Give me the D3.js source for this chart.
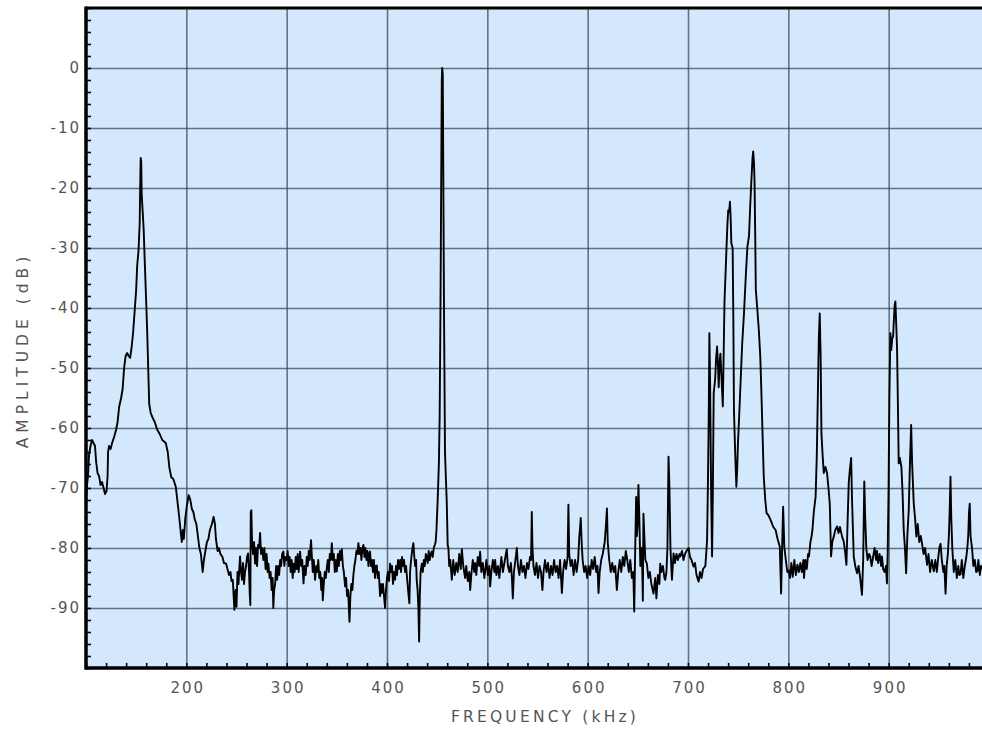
<!DOCTYPE html>
<meta charset="utf-8">
<style>
body { margin: 0; background: #fff; }
.grid line { stroke: #35414d; stroke-opacity: 0.7; stroke-width: 1.6; }
.grid .domain { display: none; }
.minor line { stroke: #000; stroke-width: 1.6; }
.minor .domain { display: none; }
.lbl text { fill: #555; font-family: "DejaVu Sans", sans-serif; font-size: 15px; letter-spacing: 2px; }
.lbl .domain, .lbl line { display: none; }
.title { fill: #555; font-family: "DejaVu Sans", sans-serif; font-size: 15.5px; }
.trace { fill: none; stroke: #000; stroke-width: 1.9; stroke-linejoin: round; }
</style>
<svg width="982" height="730"></svg>
<script src="https://d3js.org/d3.v7.min.js"></script>
<script>

// tick values
var xTicks = [200, 300, 400, 500, 600, 700, 800, 900];
var yTicks = [0, -10, -20, -30, -40, -50, -60, -70, -80, -90];

// spectrum: [frequency kHz, amplitude dB]
var lowBand = [
  [100,-73],[101,-69.5],[102,-68],[103,-64.5],[104.5,-63],[106,-62],[107.5,-62.5],[109,-63],[110,-65.5],[111.5,-67.5],
  [113,-68],[114.5,-69.5],[116,-69],[117.5,-70],[119,-71],[120.5,-70.5],[121.5,-68],[122,-64],[123,-63],[124.5,-63.5],
  [126,-62.5],[128,-61.5],[130,-60.3],[131.5,-59],[133,-56.5],[135,-55],[136.5,-53.5],[138,-50],[139.5,-48],[141,-47.5],
  [142.5,-48],[144,-48.3],[145.5,-46.5],[147,-44],[148.5,-40.5],[150,-37],[151,-33],[152.3,-30.5],[153.5,-26],[154,-20],
  [154.5,-15],[155,-15.5],[155.5,-21],[156.5,-24],[157.5,-27],[158.5,-32],[160,-39],[161,-44],[162,-50],[163,-56],
  [164.5,-57.5],[166.5,-58.3],[168.5,-59],[171,-60.3],[173.5,-61],[176,-62],[179.5,-62.5],[181.5,-64],[183,-66.5],[185,-68.2],
  [187,-68.5],[189.5,-69.8],[191,-72],[193,-75],[194.5,-77.5],[195.5,-79],[196.5,-77],[197.5,-78.5],[199,-75],[200.5,-73],
  [202.4,-71.2],[204,-72],[205.5,-73.5],[207,-74],[208.5,-75.3],[210,-76],[211.5,-78],[213,-80],[214.5,-81],[216.3,-84],
  [217.5,-82],[219,-80.5],[220.5,-79],[222,-78.5],[223.5,-77],[225.5,-76],[227.2,-74.8],[228.5,-76],[229.5,-78.5],[231.2,-80.5],
  [232.5,-80],[234,-81],[236,-81.5],[237.5,-82.5],[239.6,-82.6],[241,-83.5],[242.5,-84.5],[244,-84],[245,-85.5],[246.3,-85.3],
  [247.9,-90.3],[249,-87]
];

var floorA = [
  [250,-89.8],[251,-84],[252,-86],[253.5,-81.4],[254.5,-84],[255.5,-85.3],[256.5,-82.5],[257.5,-86],[258.5,-84],[259.5,-83],
  [260.5,-81.5],[261.5,-80.9],[262.5,-84],[263.3,-88],[263.8,-89.5],[264.2,-74],[264.8,-73.7],[265.5,-79],[266.5,-81],[267.5,-79],
  [268.5,-82.6],[269.5,-80],[270.5,-83],[271.5,-79.5],[272.5,-80],[273.5,-77.5],[274.5,-81],[275.5,-80],[276.8,-82],[277.8,-80],
  [279,-83.5],[280,-81],[281,-84],[281.8,-82.6],[283,-85],[284,-84],[285,-87],[286,-85],[286.7,-90],[287.5,-87],
  [288.5,-86],[289.5,-83],[290.5,-85.3],[291.5,-83],[292.5,-84.5],[293.5,-82],[294.5,-83],[295.5,-81],[296.7,-80.6],[297.7,-83],
  [298.7,-81.5],[300,-82],[301,-80.5],[302,-83],[303,-81.5],[304,-84],[305,-82],[306,-85],[307,-82.6],[308,-84],
  [309,-81.5],[310,-83.5],[311,-81],[312,-84],[313.4,-80.6],[314.5,-83],[315.5,-82],[316.8,-85.9],[317.8,-83],[319,-84.5],
  [320,-81.5],[321,-83],[322,-80.5],[323,-82],[323.7,-80],[324.3,-78.7],[325,-81],[326,-84],[327,-82],[328.3,-85.3],
  [329.5,-83],[330.5,-84],[331.5,-82],[332.5,-85],[333.5,-84],[334.5,-87],[335.3,-85],[336,-88.7],[337,-86],[338,-84],
  [339,-85],[340,-83.3],[341,-82],[342,-84],[343,-81],[344,-82],[345,-79.2],[346,-82],[347,-81],[348,-84],
  [349,-82],[350,-83.9],[351,-81],[352,-83],[353,-80.5],[354,-82],[355,-80.2],[356,-83],[357,-84],[358.2,-86.4],
  [359.2,-85],[360.2,-88],[361.2,-87],[362.6,-92.3],[363.5,-88],[364.5,-86],[365.5,-87],[366.5,-84.5],[367.5,-83],[368.5,-82],
  [369.5,-80.5],[370.5,-81],[371.5,-79.2],[372.5,-81],[373.5,-80],[374.5,-82],[375.5,-80],[376.5,-79.5],[377.5,-81.5],[378.5,-80],
  [379.5,-82],[380.5,-80.5],[381.5,-83],[382.3,-81],[383.1,-80.6],[384,-83],[385,-82],[386,-84],[387,-82],[388,-85],
  [389,-83],[389.8,-82.9],[390.8,-85],[391.8,-84],[393.1,-88],[394,-86],[395,-87.5],[396,-86],[397,-88],[398.1,-90],
  [399,-87],[400,-85],[401,-84],[402,-85.5],[403.1,-82.6],[404,-84],[405,-83],[406,-86],[407,-84],[408.1,-85.3],
  [409,-83],[410,-84.5],[411,-82],[412,-83.5],[413.1,-82],[414,-84],[415,-81.5],[416,-83],[417,-82],[418,-84],
  [419,-83],[420,-85],[421,-87],[422.3,-89.2],[423,-84],[424,-82],[425,-80.5],[426.3,-79.2],[427,-81],[428,-83],
  [429,-82],[429.6,-85.3],[430.5,-87],[431.3,-90],[432,-95.6],[432.7,-88],[433.5,-84],[434.7,-82.6],[435.7,-84],[436.7,-82],
  [437.7,-83],[438.7,-81],[439.6,-81.4],[440.6,-82.5],[441.6,-80.5],[442.6,-82],[443.6,-81],[444.6,-80.6],[445.6,-81.5],[446.6,-80],
  [447.6,-79.5],[448.5,-79],[449.3,-77]
];

var carrier = [
  [450.5,-72],[451.7,-66],[452.5,-58],[453.3,-40],[454,-20],[454.6,-2],[455,0],[455.6,-1],[456.1,-17],[456.8,-40],
  [457.8,-64],[458.6,-68],[459.5,-72],[460.5,-79.5],[461.2,-80],[462,-83],[463,-82],[464,-84],[464.6,-85.3]
];

var floorB = [
  [466,-82],[467.5,-84.5],[469,-82.5],[470.5,-84],[472,-81],[473.5,-83.5],[474.6,-80.2],[476,-83],[477.9,-85],[479,-83],
  [480.5,-85.5],[482,-84],[482.9,-87],[484,-84.5],[485.5,-82],[487,-84],[487.8,-82.5],[489,-84.5],[490.5,-81.5],[492,-83],
  [492.8,-80.6],[494,-84],[495.5,-82.5],[497,-85],[497.8,-84],[499,-82],[500.5,-84.5],[502,-83],[502.8,-86.4],[504,-84],
  [505.5,-82],[507,-84],[507.8,-82],[509,-84.5],[510.5,-83],[512,-85],[512.8,-83.5],[514,-81.5],[515.5,-84],[517,-82.5],
  [518.5,-81],[519.4,-80.2],[520.5,-83],[522,-84],[523.5,-82.5],[524.5,-85],[525.4,-88.4],[526.5,-84],[528,-82],[529.4,-80],
  [530.5,-83],[532,-84.5],[533.5,-82],[535,-84],[536.5,-83],[538,-85],[539.5,-82.5],[541,-83.5],[542.5,-81.5],[543.6,-82],
  [544.3,-74],[545,-80],[546,-83],[547.5,-84.5],[549,-82.5],[550.5,-85],[552,-83],[553.5,-84],[554.9,-87],[556,-84],
  [557.5,-82],[559,-84],[560.5,-82.5],[562,-85],[563.5,-83],[565,-84.5],[566.5,-82],[568,-84],[569.5,-83],[571,-85],
  [572.5,-82],[574.3,-87.5],[575.5,-84],[577,-82],[578.5,-83.5],[580,-81.5],[580.8,-72.8],[581.6,-81],[583,-83],[584.5,-82],
  [586,-84.5],[587.5,-82],[589,-84],[590.5,-82],[591.7,-78],[592.5,-76.5],[593.1,-75],[594,-79],[595,-82],[596.5,-84],
  [598,-83],[599.5,-85],[601,-83],[602.5,-84.5],[604,-82],[605.5,-83.5],[607,-81.5],[608.5,-84],[609.8,-83],[610.8,-87.5],
  [612,-84],[613.5,-82],[615,-81],[617,-79],[618.3,-76],[619.2,-73.4],[620,-79],[621.5,-82],[623,-84],[624.5,-82.5],
  [626,-84],[627.5,-83],[629.1,-87],[630.5,-84],[632,-82],[633.5,-84],[635,-81.5],[636.5,-83],[638,-80.5],[639.5,-82],
  [641,-84],[642.5,-82],[644,-85],[645.5,-84],[646.4,-90.6],[647.2,-82],[648.3,-71.5],[649,-78],[649.8,-76],[650.6,-69.5],
  [651.5,-75],[652.5,-83],[654,-80],[655,-88.8],[655.6,-74.3],[656.5,-78],[657.5,-82],[659,-82.6],[660.5,-85],[662,-84],
  [663.5,-86],[665.6,-87.6],[667.3,-85],[668.5,-88.4],[670,-84.5],[671.5,-86],[672.3,-82.6],[673.5,-84],[675,-83],[676.5,-85],
  [677.3,-85.3],[678.5,-84],[679.5,-80],[680.6,-64.8],[681.5,-70],[682.5,-80],[684,-85.3],[685.6,-80.9],[687,-82.5],[688.5,-81],
  [690,-82],[691.5,-81],[692.3,-81.4],[694,-80.5],[695.5,-82],[697,-81],[698.5,-80.5],[700.6,-80],[702,-81.5],[703.5,-82],
  [705.6,-83.1],[707,-82.5],[708.5,-84.5],[710.6,-85.6],[712,-84],[713.5,-85],[715,-83.5],[717.3,-83],[718.3,-80.5],[719,-78.7]
];

var upperBand = [
  [719.8,-70],[720.6,-59.2],[721.3,-44.2],[722,-52],[723,-69.8],[724,-81.4],[724.8,-70],[725.6,-54.2],[727,-52],[728,-48.5],
  [729,-46.4],[730,-50],[730.6,-53.2],[731.5,-49],[732.3,-47.6],[733.5,-52],[734.7,-56.4],[735.5,-48],[736.4,-38.7],[737.5,-34],
  [738.4,-29.8],[739.3,-26],[740.1,-23.7],[741,-24],[741.8,-22.3],[742.5,-25],[743.2,-29.2],[744.5,-30],[745.2,-42],[745.8,-57],
  [747,-64],[748.2,-69.8],[749,-67],[749.8,-62.5],[751,-58],[752.5,-52],[754,-46],[755.8,-40.9],[757.5,-35],[759.2,-29.8],
  [760.8,-28],[762,-23],[763.2,-18.7],[764.3,-15],[765,-13.9],[765.8,-16],[766.3,-18.7],[767,-28],[767.6,-37],[769,-40],
  [770.6,-43.7],[772,-48],[773,-53.2],[774.3,-61],[775.5,-68.1],[777,-72],[778.3,-74.2],[780,-74.5],[782.3,-75.3],[785,-76.5],
  [787.3,-77],[789.3,-78.5],[791.5,-79.8],[792.8,-87.6],[793.8,-80],[794.8,-73.1],[796,-79.8],[797.5,-82],[799,-84],[800.3,-83.7]
];

var highBand = [
  [801.7,-85],[803,-82.5],[804.4,-84.8],[806,-82],[807.5,-84.5],[809,-82.8],[810.5,-84],[812,-82.5],[813.5,-84],[815,-82],
  [815.6,-85],[817,-82],[818.4,-83.5],[819.7,-81],[820.6,-81.4],[822,-79],[823.2,-78],[824,-77],[825.4,-74],[827.2,-71.4],
  [828.3,-65],[829.5,-53.7],[830.4,-45],[831.3,-40.9],[832.2,-48],[833,-60.9],[834,-64],[835.3,-67.5],[837,-66.5],[838.6,-67.5],
  [840,-70],[841.3,-72.6],[842.6,-81.4],[843.8,-79],[845.3,-78.1],[846.8,-77],[848.6,-76.4],[850,-77.5],[851.4,-76.5],[853.6,-78.1],
  [855.3,-79],[856.8,-81],[857.9,-82.8],[859,-76],[860.2,-69.2],[861.3,-67],[862.6,-65],[863.5,-72],[865.2,-81.4],[866.7,-83],
  [868.5,-84.2],[870,-83],[871.6,-85],[873.4,-87.8],[874.6,-82],[875.7,-68.9],[876.6,-75],[877.7,-80],[879,-82],[880.5,-81],
  [881.6,-81.4],[883,-83],[884.5,-81.5],[886,-80],[887.5,-82],[888.3,-80.5],[889.5,-82.5],[891,-81],[892.5,-83],[893.3,-81.4],
  [894.5,-83.5],[896,-84],[897.3,-83],[898.3,-85.9],[899.1,-80],[899.9,-70.3],[900.7,-55],[901.7,-44.2],[902.6,-47],[903.6,-45],
  [904.4,-44.8],[905.2,-42],[906,-39.5],[906.7,-38.9],[907.6,-43],[908.4,-47],[909.2,-56],[910,-65.9],[911.1,-65],[912.7,-66.5],
  [913.9,-71],[915,-77],[916.2,-80],[917.4,-84.2],[918.6,-78],[920,-73.7],[921.2,-66],[922.4,-59.5],[923.4,-66],[925,-72.6],
  [926.3,-75],[927.6,-78.1],[929,-76],[930.5,-79],[932,-78],[933.3,-79.3],[934.8,-81],[936.3,-80],[938.3,-82.8],[939.7,-81],
  [941.3,-84],[943,-82],[945,-83.9],[946.5,-82],[948,-84],[949.5,-81.5],[950.5,-80],[951.7,-79.3],[953,-82],[954.5,-84],
  [955.5,-83],[956.7,-87.6],[957.8,-83],[959,-81],[960,-78],[960.8,-74],[961.6,-68.1],[962.4,-75],[963.4,-80],[964.9,-84],
  [966.4,-82],[967.9,-85],[969.4,-83],[970.4,-84.5],[971.6,-84.4],[972.9,-82],[974.4,-85],[975.9,-83],[977.4,-81.5],[978.3,-80.2],
  [979.3,-78],[980.1,-74],[980.8,-72.6],[981.6,-78],[983.2,-80.2],[984.4,-83],[985.9,-82],[987.2,-84],[988.3,-83.9],[989.4,-82],
  [990.9,-84.5],[991.9,-83],[993.4,-83.2],[994.9,-85],[996.4,-82.5],[998.4,-84]
];

var spectrum = [].concat(lowBand, floorA, carrier, floorB, upperBand, highBand);

var svg = d3.select("svg");
var plotLeft = 86, plotTop = 8, plotBottom = 668, plotRight = 989;

var x = d3.scaleLinear().domain([100, 1000]).range([plotLeft, plotRight]);
var y = d3.scaleLinear().domain([10, -100]).range([plotTop, plotBottom]);

svg.append("defs").append("clipPath").attr("id", "plot")
  .append("rect").attr("x", plotLeft).attr("y", plotTop)
    .attr("width", plotRight - plotLeft).attr("height", plotBottom - plotTop);

svg.append("rect")
    .attr("x", plotLeft).attr("y", plotTop)
    .attr("width", plotRight - plotLeft).attr("height", plotBottom - plotTop)
    .attr("fill", "#d3e7fd");

// grid
svg.append("g").attr("class", "grid")
    .attr("transform", "translate(0," + plotBottom + ")")
    .call(d3.axisBottom(x).tickValues(xTicks).tickSize(-(plotBottom - plotTop)).tickFormat(""));
svg.append("g").attr("class", "grid")
    .attr("transform", "translate(" + plotLeft + ",0)")
    .call(d3.axisLeft(y).tickValues(yTicks).tickSize(-(plotRight - plotLeft)).tickFormat(""));

// minor ticks on the inside of the frame
svg.append("g").attr("class", "minor")
    .attr("transform", "translate(0," + plotBottom + ")")
    .call(d3.axisBottom(x).tickValues(d3.range(100, 1001, 20)).tickSize(-5).tickFormat(""));
svg.append("g").attr("class", "minor")
    .attr("transform", "translate(" + plotLeft + ",0)")
    .call(d3.axisLeft(y).tickValues(d3.range(10, -101, -2)).tickSize(-5).tickFormat(""));

// trace
var line = d3.line()
    .x(function(d) { return x(d[0]); })
    .y(function(d) { return y(d[1]); });

svg.append("path")
    .datum(spectrum)
    .attr("class", "trace")
    .attr("clip-path", "url(#plot)")
    .attr("d", line);

// frame
svg.append("line").attr("x1", plotLeft).attr("x2", 982).attr("y1", plotTop).attr("y2", plotTop)
    .attr("stroke", "#000").attr("stroke-width", 3);
svg.append("line").attr("x1", plotLeft).attr("x2", plotLeft).attr("y1", plotTop - 1.5).attr("y2", plotBottom + 1.75)
    .attr("stroke", "#000").attr("stroke-width", 3.5);
svg.append("line").attr("x1", plotLeft).attr("x2", 982).attr("y1", plotBottom).attr("y2", plotBottom)
    .attr("stroke", "#000").attr("stroke-width", 3.5);

// labels (plain hyphen minus, as in the reference)
var plain = function(d) { return String(d); };
svg.append("g").attr("class", "lbl")
    .attr("transform", "translate(1," + plotBottom + ")")
    .call(d3.axisBottom(x).tickValues(xTicks).tickSize(0).tickPadding(14).tickFormat(plain));
svg.append("g").attr("class", "lbl")
    .attr("transform", "translate(" + (plotLeft - 5) + ",0)")
    .call(d3.axisLeft(y).tickValues(yTicks).tickSize(0).tickPadding(0).tickFormat(plain));

svg.append("text").attr("class", "title")
    .attr("x", 545).attr("y", 722)
    .attr("text-anchor", "middle")
    .style("letter-spacing", "3.2px")
    .text("FREQUENCY (kHz)");

svg.append("text").attr("class", "title")
    .attr("transform", "translate(28,350) rotate(-90)")
    .attr("text-anchor", "middle")
    .style("letter-spacing", "5px")
    .text("AMPLITUDE (dB)");

</script>
